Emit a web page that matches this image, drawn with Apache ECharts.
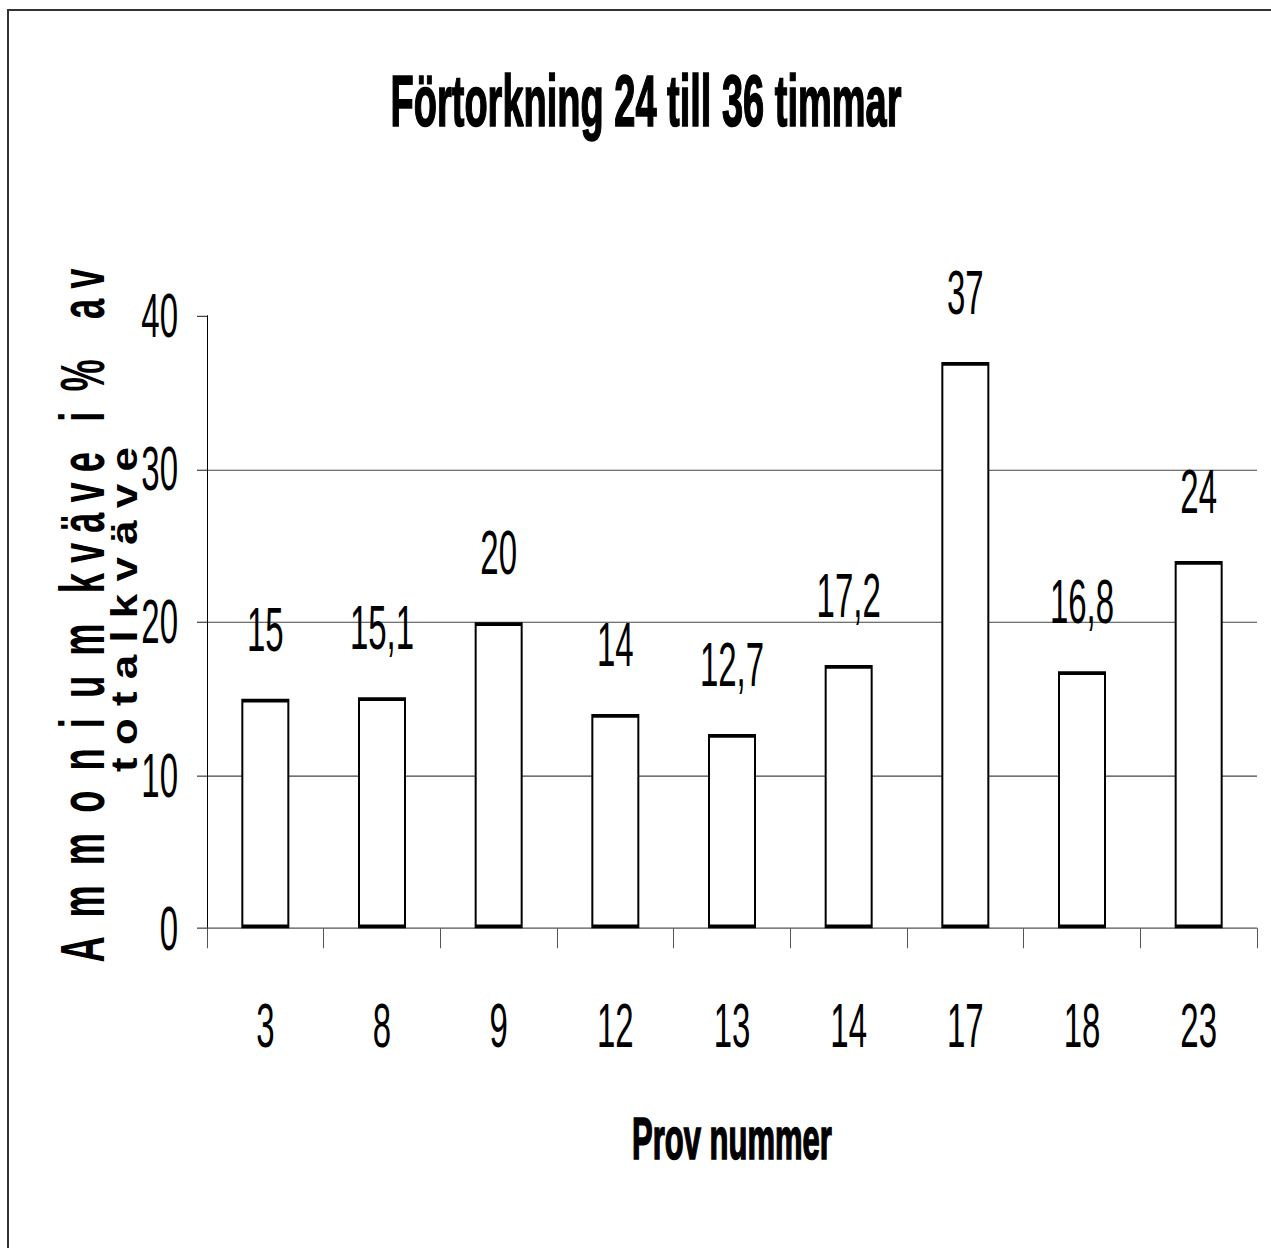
<!DOCTYPE html>
<html>
<head>
<meta charset="utf-8">
<script src="https://cdn.jsdelivr.net/npm/echarts@6/dist/echarts.min.js"></script>
<style>
  html, body { margin: 0; padding: 0; background: #fff; }
  #page { position: relative; width: 1271px; height: 1248px; overflow: hidden; background: #fff; }
  /* Chart is laid out at a shorter height and stretched vertically for the tall, condensed lettering */
  #chart { position: absolute; left: 0; top: 0; width: 1271px; height: 656.84px; transform: scaleY(1.9); transform-origin: 0 0; }
</style>
</head>
<body>
<div id="page"><div id="chart"></div></div>
<script>
// Sample numbers (x axis) and ammonium nitrogen share in % of total nitrogen
const categories = ['3', '8', '9', '12', '13', '14', '17', '18', '23'];
const values = [15, 15.1, 20, 14, 12.7, 17.2, 37, 16.8, 24];

const yMin = 0;
const yMax = 40;
const yStep = 10;

const titleText = 'Förtorkning 24 till 36 timmar';
const xAxisTitle = 'Prov nummer';
const yAxisTitle1 = 'A  m  m  o  n  i  u  m   k v ä v e   i  %    a v';
const yAxisTitle2 = 't o t a l k v ä v e';

const STRETCH = 1.9;
const FONT = '"Liberation Sans", Arial, sans-serif';

function textWidth(str, size, weight) {
  const ctx = document.createElement('canvas').getContext('2d');
  ctx.font = weight + ' ' + size + 'px ' + FONT;
  return ctx.measureText(str).width;
}

function fmt(v) {
  return String(v).replace('.', ',');
}

const chart = echarts.init(document.getElementById('chart'), null, { renderer: 'svg' });

// rotated axis title lines, fitted to their on-screen length
const y1Size = 63, y2Size = 37;
const y1Scale = (695 / STRETCH) / textWidth(yAxisTitle1, y1Size, 'bold');
const y2Scale = (325 / STRETCH) / textWidth(yAxisTitle2, y2Size, 'bold');

chart.setOption({
  animation: false,
  backgroundColor: '#fff',
  title: {
    text: titleText,
    left: 646,
    top: 34,
    padding: 0,
    textAlign: 'center',
    textStyle: {
      fontFamily: FONT,
      fontSize: 38,
      fontWeight: 'bold',
      color: '#000',
      lineHeight: 38,
      textBorderColor: '#000',
      textBorderWidth: 0.9
    }
  },
  grid: {
    left: 207,
    right: 14,
    top: 166.3,
    bottom: 168.4,
    containLabel: false
  },
  xAxis: {
    type: 'category',
    data: categories,
    name: xAxisTitle,
    nameLocation: 'middle',
    nameGap: 95,
    nameTextStyle: {
      fontFamily: FONT,
      fontSize: 31,
      fontWeight: 'bold',
      color: '#000',
      lineHeight: 31,
      textBorderColor: '#000',
      textBorderWidth: 0.9
    },
    axisLine: { show: true, lineStyle: { color: '#555', width: 0.6 } },
    axisTick: { show: true, length: 10.5, lineStyle: { color: '#555', width: 1 } },
    axisLabel: {
      margin: 34.5,
      fontFamily: FONT,
      fontSize: 33,
      color: '#000',
      lineHeight: 33
    },
    splitLine: { show: false }
  },
  yAxis: {
    type: 'value',
    min: yMin,
    max: yMax,
    interval: yStep,
    axisLine: { show: true, lineStyle: { color: '#000', width: 1 } },
    axisTick: { show: true, length: 10, lineStyle: { color: '#333', width: 0.6 } },
    axisLabel: {
      margin: 29,
      fontFamily: FONT,
      fontSize: 33,
      color: '#000'
    },
    splitLine: {
      show: true,
      showMinLine: false,
      showMaxLine: false,
      lineStyle: { color: '#444', width: 0.6 }
    }
  },
  series: [{
    type: 'bar',
    data: values,
    barWidth: 48,
    itemStyle: { color: '#fff', borderColor: '#000', borderWidth: 2 },
    label: {
      show: true,
      position: 'top',
      distance: 20,
      fontFamily: FONT,
      fontSize: 33,
      color: '#000',
      lineHeight: 33,
      formatter: p => fmt(p.value)
    }
  }],
  graphic: [
    // page frame: top and left edges
    {
      type: 'line',
      silent: true,
      shape: { x1: 7, y1: 5.3, x2: 1271, y2: 5.3 },
      style: { stroke: '#333', lineWidth: 1.05 }
    },
    {
      type: 'line',
      silent: true,
      shape: { x1: 8, y1: 5.3, x2: 8, y2: 660 },
      style: { stroke: '#333', lineWidth: 2 }
    },
    {
      type: 'text',
      silent: true,
      x: 82,
      y: 324,
      rotation: Math.PI / 2,
      scaleX: y1Scale,
      style: {
        text: yAxisTitle1,
        fontFamily: FONT,
        fontSize: y1Size,
        fontWeight: 'bold',
        fill: '#000',
        align: 'center',
        verticalAlign: 'middle'
      }
    },
    {
      type: 'text',
      silent: true,
      x: 124,
      y: 320.8,
      rotation: Math.PI / 2,
      scaleX: y2Scale,
      style: {
        text: yAxisTitle2,
        fontFamily: FONT,
        fontSize: y2Size,
        fontWeight: 'bold',
        fill: '#000',
        align: 'center',
        verticalAlign: 'middle'
      }
    }
  ]
});
</script>
</body>
</html>
